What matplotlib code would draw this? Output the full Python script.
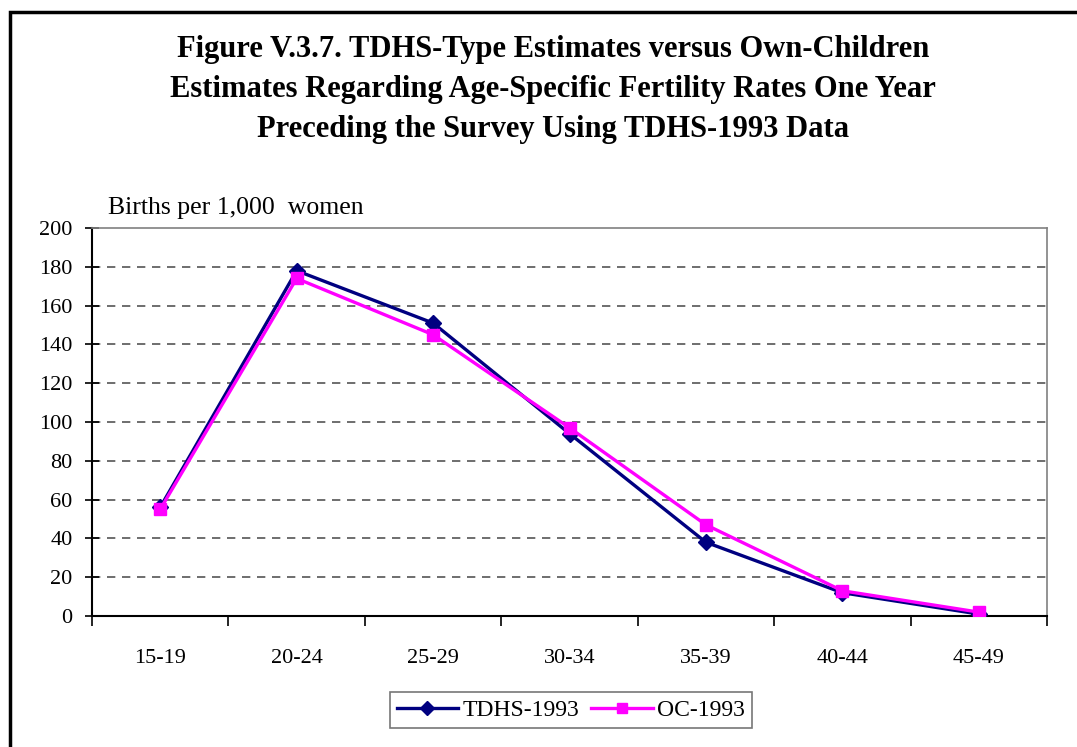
import numpy as np
import matplotlib.pyplot as plt
from matplotlib.patches import Rectangle

age_groups = ['15-19', '20-24', '25-29', '30-34', '35-39', '40-44', '45-49']
tdhs_1993 = [56, 178, 151, 94, 38, 12, 1]
oc_1993 = [55, 174, 145, 97, 47, 13, 2]

plt.rcParams['font.family'] = ['Liberation Serif', 'DejaVu Serif']

fig = plt.figure(figsize=(10.77, 7.47), dpi=100)
# outer frame (only top and left edges visible, like a cropped page box)
fig.patches.append(Rectangle((10 / 1077, -0.1), 1.2, (747 - 12) / 747 + 0.1,
                             transform=fig.transFigure, fill=False,
                             edgecolor='black', linewidth=2.5))

ax = fig.add_axes([92 / 1077, 1 - 616 / 747, (1047 - 92) / 1077, (616 - 228) / 747])

x = np.arange(len(age_groups)) + 0.5
ax.plot(x, tdhs_1993, color='#000080', lw=2.4, marker='D', ms=8, label='TDHS-1993', zorder=3)
ax.plot(x, oc_1993, color='#FF00FF', lw=2.4, marker='s', ms=8.5, label='OC-1993', zorder=4)

ax.set_xlim(0, len(age_groups))
ax.set_ylim(0, 200)
ax.set_yticks(np.arange(0, 201, 20))
ax.set_xticks(np.arange(0, len(age_groups) + 1))
ax.set_xticklabels([])
ax.set_xticks(x, minor=True)
ax.set_xticklabels(age_groups, minor=True)
ax.tick_params(axis='x', which='minor', length=0, pad=24, labelsize=16)
ax.tick_params(axis='x', which='major', direction='out', length=7, width=1.2)
ax.tick_params(axis='y', direction='inout', length=10, width=1.2, labelsize=16, pad=9)

for v in np.arange(20, 200, 20):
    ax.axhline(v, color='#555555', lw=1.2, ls=(0, (5, 4)), zorder=1)

for s in ['top', 'right']:
    ax.spines[s].set_color('#808080')
    ax.spines[s].set_linewidth(1.2)
for s in ['left', 'bottom']:
    ax.spines[s].set_color('black')
    ax.spines[s].set_linewidth(1.5)

fig.text(108 / 1077, 1 - 208 / 747, 'Births per 1,000  women', fontsize=18.5, va='center')

fig.text(553 / 1077, 1 - 90 / 747,
         'Figure V.3.7. TDHS-Type Estimates versus Own-Children\n'
         'Estimates Regarding Age-Specific Fertility Rates One Year\n'
         'Preceding the Survey Using TDHS-1993 Data',
         ha='center', va='center', fontsize=22, fontweight='bold', linespacing=1.5)

leg = fig.legend(loc='center', bbox_to_anchor=(571 / 1077, 1 - 710 / 747), ncol=2,
                 fontsize=17, frameon=True, fancybox=False, edgecolor='#555555',
                 handlelength=2.6, columnspacing=0.5, handletextpad=0.2,
                 borderpad=0.3, markerscale=0.9)
leg.get_frame().set_linewidth(1.2)

fig.savefig('out.png', dpi=100)
